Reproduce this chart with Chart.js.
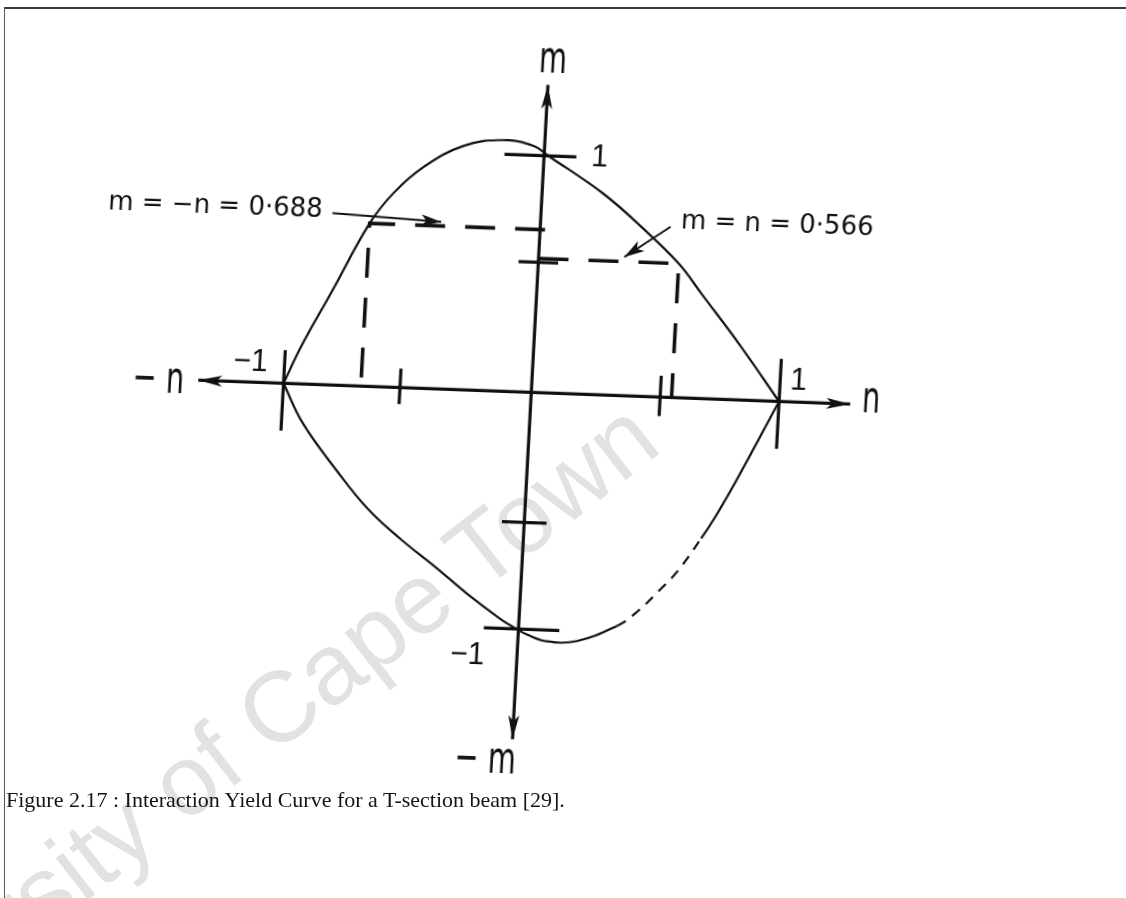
<!DOCTYPE html>
<html lang="en">
<head>
<meta charset="utf-8">
<title>Interaction Yield Curve for a T-section beam</title>
<script src="https://cdn.jsdelivr.net/npm/chart.js@4.4.1/dist/chart.umd.min.js"></script>
<style>
  html, body { margin: 0; padding: 0; background: #fff; }
  body { position: relative; width: 1126px; height: 898px; overflow: hidden; }
  #stamp { position: absolute; left: 0; top: 0; }
  #sheetTop { position: absolute; left: 4px; top: 7px; width: 1122px; height: 2px; background: #3a3a3a; }
  #sheetLeft { position: absolute; left: 4px; top: 7px; width: 1px; height: 891px; background: #555; }
  /* the sketch sits slightly turned on the page */
  #plot { position: absolute; left: 85px; top: 37px; width: 843px; height: 770px;
          transform-origin: 446.3px 355.4px;
          transform: matrix(0.99933, 0.03664, -0.05408, 0.99854, 0, 0); }
  #caption { position: absolute; left: 6px; top: 787px; font: 22px "Liberation Serif", serif;
             color: #141414; white-space: nowrap; }
</style>
</head>
<body>
<svg id="stamp" width="1126" height="898">
  <text x="664" y="450" text-anchor="end" transform="rotate(-38 664 450)"
        font-family="Liberation Sans, sans-serif" font-size="100" fill="#e2e2e2">University of Cape Town</text>
</svg>
<div id="sheetTop"></div>
<div id="sheetLeft"></div>
<div id="plot"><canvas id="chart" width="843" height="770"></canvas></div>
<div id="caption">Figure 2.17 : Interaction Yield Curve for a T-section beam [29].</div>

<script>
const INK = '#111';

// Yield curve, positive-moment branch: axial force n against moment m
const upperN = [-1, -0.937, -0.825, -0.688, -0.598, -0.482, -0.325, -0.165, -0.044, 0.018, 0.246, 0.413, 0.566, 0.666, 0.835, 1];
const upperM = [0, 0.158, 0.395, 0.688, 0.82, 0.935, 1.03, 1.06, 1.04, 1.0, 0.85, 0.71, 0.566, 0.44, 0.225, 0];

// Negative-moment branch
const lowerN = [-1, -0.914, -0.769, -0.63, -0.492, -0.35, -0.214, -0.076, -0.018, 0.035, 0.117, 0.238, 0.396, 0.463, 0.564, 0.629, 0.716, 0.769, 0.845, 0.941, 1];
const lowerM = [0, -0.165, -0.357, -0.52, -0.641, -0.75, -0.86, -0.96, -0.995, -1.022, -1.048, -1.042, -0.972, -0.92, -0.81, -0.73, -0.59, -0.495, -0.34, -0.13, 0];
// stretch of the negative branch that is only sketched (dashed)
const lowerDashedN = [0.396, 0.716];

// Axes (ends carry the arrowheads)
const nAxisEnds = [-1.344, 1.287];
const mAxisEnds = [-1.466, 1.30];

// Tick marks on the n axis (vertical strokes) and on the m axis (horizontal strokes)
const nTicks = [-1, -0.53, 0.52, 1];
const nTickLow = [-0.2, -0.07, -0.08, -0.2];
const nTickHigh = [0.14, 0.08, 0.09, 0.18];
const mTicks = [1, 0.55, -0.55, -1];
const mTickLeft = [-0.16, -0.08, -0.09, -0.14];
const mTickRight = [0.13, 0.08, 0.09, 0.165];

// Corner points m = -n = 0.688 and m = n = 0.566
const cornerN = [-0.688, 0.566];
const cornerM = [0.688, 0.566];
const noteText = ['m = \u2212n = 0\u00b7688', 'm = n = 0\u00b7566'];
const noteN = [-0.88, 0.565];
const noteM = [0.735, 0.745];
const leaderN = [[-0.84, -0.40], [0.525, 0.345]];
const leaderM = [[0.725, 0.705], [0.72, 0.585]];

// Axis names and tick numbers
const axisTitles = ['m', '\u2212 m', '\u2212 n', 'n'];
const axisTitleN = [0.015, -0.105, -1.505, 1.371];
const axisTitleM = [1.40, -1.563, -0.01, 0.015];
const tickLabels = ['1', '\u22121', '\u22121', '1'];
const tickLabelN = [0.224, -0.20, -1.137, 1.074];
const tickLabelM = [1.0, -1.12, 0.083, 0.087];

const pts = (ns, ms) => ns.map((n, i) => ({ x: n, y: ms[i] }));
const stroke = (data, width, extra) => Object.assign({
  data, showLine: true, borderColor: INK, borderWidth: width,
  pointRadius: 0, pointHoverRadius: 0, fill: false, tension: 0
}, extra || {});

const datasets = [
  stroke(pts(upperN, upperM), 2.2, { tension: 0.4 }),
  stroke(pts(lowerN, lowerM), 2.2, {
    tension: 0.4,
    segment: {
      borderDash: c => (c.p0.parsed.x >= lowerDashedN[0] - 1e-9 && c.p1.parsed.x <= lowerDashedN[1] + 1e-9) ? [10, 8] : undefined
    }
  }),
  stroke(pts(nAxisEnds, [0, 0]), 3.2),
  stroke(pts([0, 0], mAxisEnds), 3.2),
  ...nTicks.map((n, i) => stroke(pts([n, n], [nTickLow[i], nTickHigh[i]]), 3.2)),
  ...mTicks.map((m, i) => stroke(pts([mTickLeft[i], mTickRight[i]], [m, m]), 3.2)),
  stroke(pts([0.02, cornerN[0], cornerN[0]], [cornerM[0], cornerM[0], 0]), 3.6, { borderDash: [30, 20] }),
  stroke(pts([0, cornerN[1], cornerN[1]], [cornerM[1], cornerM[1], 0]), 3.6, { borderDash: [30, 20] }),
  ...leaderN.map((ns, i) => stroke(pts(ns, leaderM[i]), 2))
];

// Arrowheads and lettering, placed through the chart's own scales
const sketchDecor = {
  id: 'sketchDecor',
  afterDatasetsDraw(chart) {
    const { ctx, scales: { x, y } } = chart;
    const P = (n, m) => ({ px: x.getPixelForValue(n), py: y.getPixelForValue(m) });
    const head = (fromN, fromM, toN, toM, len, half) => {
      const a = P(fromN, fromM), b = P(toN, toM);
      const ang = Math.atan2(b.py - a.py, b.px - a.px);
      ctx.save();
      ctx.translate(b.px, b.py);
      ctx.rotate(ang);
      ctx.beginPath();
      ctx.moveTo(0, 0);
      ctx.lineTo(-len, -half);
      ctx.lineTo(-len * 0.75, 0);
      ctx.lineTo(-len, half);
      ctx.closePath();
      ctx.fillStyle = INK;
      ctx.fill();
      ctx.restore();
    };
    head(0, 0, nAxisEnds[1], 0, 24, 5.5);
    head(0, 0, nAxisEnds[0], 0, 24, 5.5);
    head(0, 0, 0, mAxisEnds[1], 24, 5.5);
    head(0, 0, 0, mAxisEnds[0], 24, 5.5);
    leaderN.forEach((ns, i) => head(ns[0], leaderM[i][0], ns[1], leaderM[i][1], 20, 6));

    const write = (str, n, m, font, align, stretch) => {
      const p = P(n, m);
      ctx.save();
      ctx.translate(p.px, p.py);
      ctx.scale(1, stretch);
      ctx.font = font;
      ctx.textAlign = align;
      ctx.textBaseline = 'middle';
      ctx.fillStyle = INK;
      ctx.fillText(str, 0, 0);
      ctx.restore();
    };
    axisTitles.forEach((t, i) => write(t, axisTitleN[i], axisTitleM[i], '32px "DejaVu Sans Condensed", "DejaVu Sans", sans-serif', 'center', 1.4));
    tickLabels.forEach((t, i) => write(t, tickLabelN[i], tickLabelM[i], '30px "Liberation Sans", sans-serif', 'center', 1.05));
    write(noteText[0], noteN[0], noteM[0], '26px "DejaVu Sans", sans-serif', 'right', 1);
    write(noteText[1], noteN[1], noteM[1], '26px "DejaVu Sans", sans-serif', 'left', 1);
  }
};

new Chart(document.getElementById('chart'), {
  type: 'scatter',
  data: { datasets },
  options: {
    responsive: false,
    animation: false,
    devicePixelRatio: 1,
    events: [],
    layout: { padding: 0 },
    plugins: { legend: { display: false }, tooltip: { enabled: false } },
    scales: {
      x: { type: 'linear', min: -1.8, max: 1.6, display: false },
      y: { type: 'linear', min: -1.75, max: 1.5, display: false }
    }
  },
  plugins: [sketchDecor]
});
</script>
</body>
</html>
